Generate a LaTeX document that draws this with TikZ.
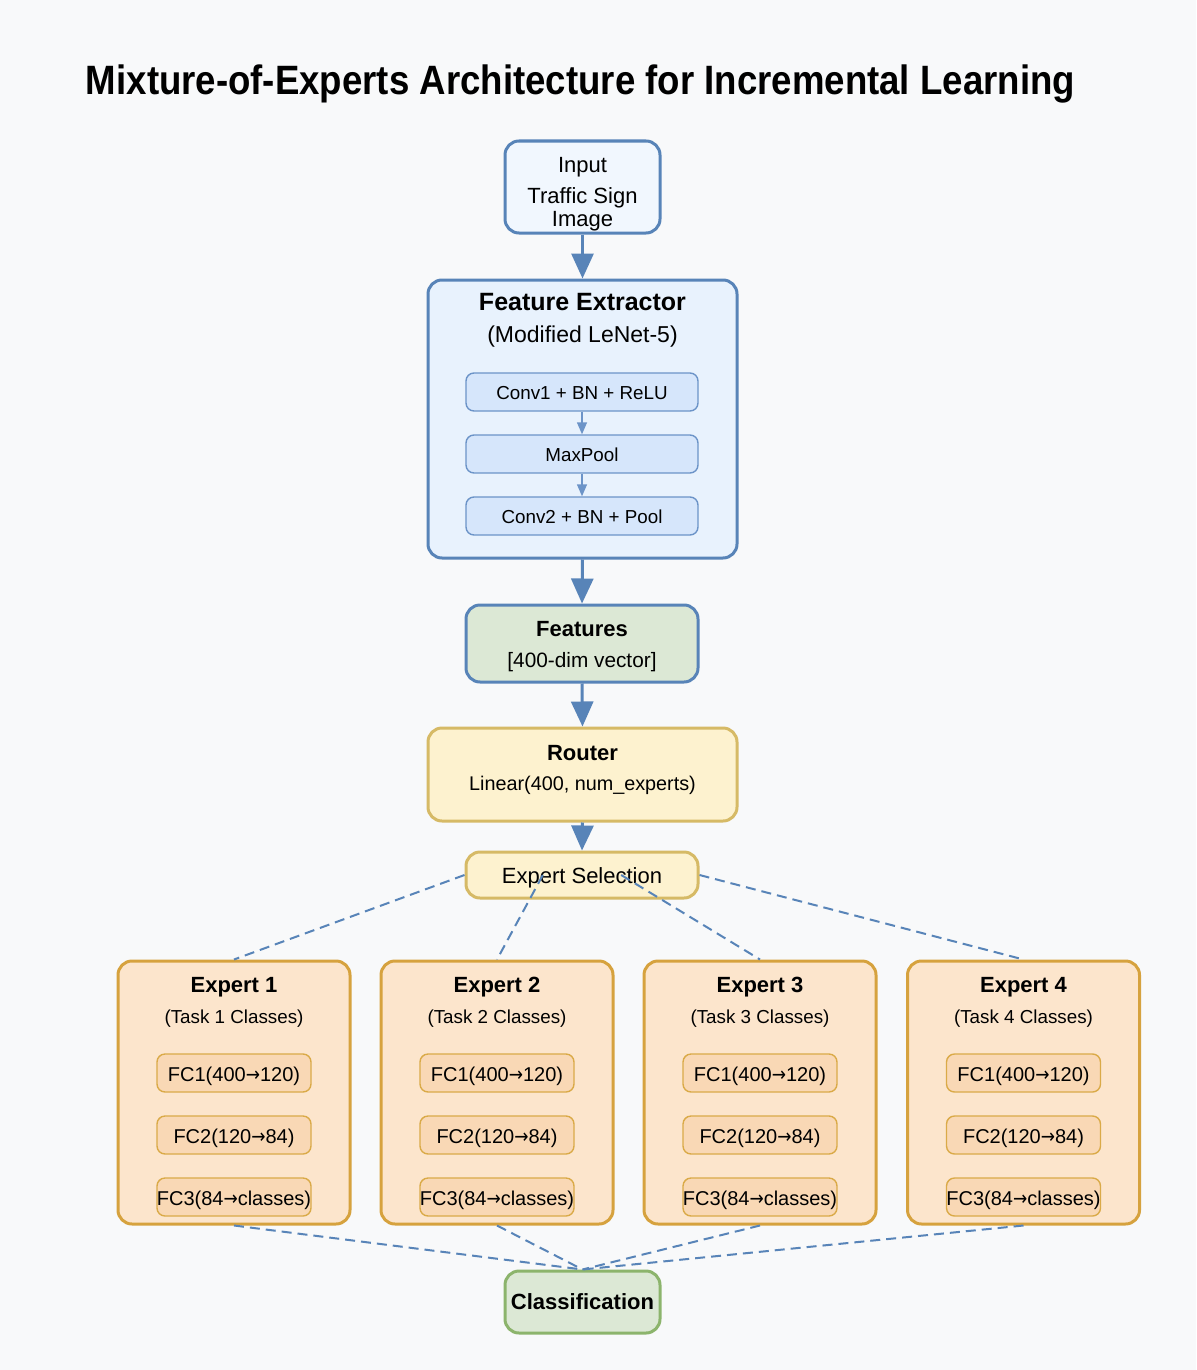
\documentclass[tikz,border=0pt]{standalone}
\usepackage{fontspec}
\setmainfont{Liberation Sans}
\newfontfamily\arrowfont{DejaVu Sans}
\usepackage{graphicx}
\usetikzlibrary{arrows.meta,calc}

\newcommand\toarr{\scalebox{0.85}[1]{\arrowfont →}}

\definecolor{bgcol}{RGB}{248,249,250}
\definecolor{blueline}{RGB}{88,132,184}
\definecolor{subline}{RGB}{108,148,200}
\definecolor{inputfill}{RGB}{241,247,254}
\definecolor{fefill}{RGB}{232,242,253}
\definecolor{subfill}{RGB}{214,230,251}
\definecolor{featfill}{RGB}{220,232,213}
\definecolor{routerfill}{RGB}{253,242,207}
\definecolor{routerline}{RGB}{214,186,102}
\definecolor{expfill}{RGB}{252,229,204}
\definecolor{expline}{RGB}{214,162,62}
\definecolor{fcfill}{RGB}{249,216,181}
\definecolor{fcline}{RGB}{218,170,72}
\definecolor{clsline}{RGB}{140,180,108}

\begin{document}
\begin{tikzpicture}[x=0.5pt,y=-0.5pt,
  box/.style={draw, line width=1.5pt, rounded corners=7pt, inner sep=0pt},
  subbox/.style={draw=subline, fill=subfill, line width=0.7pt, rounded corners=4pt, inner sep=0pt,
    minimum width=116pt, minimum height=19pt},
  fcbox/.style={draw=fcline, fill=fcfill, line width=0.7pt, rounded corners=4pt, inner sep=0pt,
    minimum width=77pt, minimum height=19pt},
  expbox/.style={box, draw=expline, fill=expfill, minimum width=116pt, minimum height=131.5pt},
  txt/.style={anchor=base, inner sep=0pt, font=\fontsize{11}{13}\selectfont},
  head/.style={anchor=base, inner sep=0pt, font=\fontsize{11}{13}\selectfont\bfseries},
  small/.style={anchor=base, inner sep=0pt, font=\fontsize{9.4}{11}\selectfont},
  fctxt/.style={anchor=base, inner sep=0pt, font=\fontsize{10}{12}\selectfont},
  bigarrow/.style={draw=blueline, line width=1.5pt, -{Triangle[width=11pt,length=12.5pt]}},
  smallarrow/.style={draw=subline, line width=0.7pt, -{Triangle[width=5pt,length=6pt]}},
  link/.style={draw=blueline, line width=1pt, dash pattern=on 5pt off 3pt}]
\useasboundingbox (0,0) rectangle (1196,1370);
\fill[bgcol] (0,0) rectangle (1196,1370);

% title
\node[anchor=base, inner sep=0pt] (title) at (580.5,95)
  {\resizebox{494.5pt}{\height}{\fontsize{20.5}{24}\selectfont\bfseries Mixture-of-Experts Architecture for Incremental Learning}};

% input
\node[box, draw=blueline, fill=inputfill, minimum width=77.5pt, minimum height=46pt] (input) at (582.5,187) {};
\node[txt] (inputa) at (582.5,172) {Input};
\node[txt] (inputb) at (582.5,203) {Traffic Sign};
\node[txt] (inputc) at (582.5,226) {Image};

% feature extractor
\node[box, draw=blueline, fill=fefill, minimum width=154.5pt, minimum height=139pt] (fe) at (582.5,419) {};
\node[head, font=\fontsize{12.5}{15}\selectfont\bfseries] (fetitle) at (582.5,310) {Feature Extractor};
\node[txt, font=\fontsize{11.5}{14}\selectfont] (fesub) at (582.5,342) {(Modified LeNet-5)};
\node[subbox] (conv1) at (582,392) {};
\node[small] (conv1t) at (582,399) {Conv1 + BN + ReLU};
\node[subbox] (pool) at (582,454) {};
\node[small] (poolt) at (582,461) {MaxPool};
\node[subbox] (conv2) at (582,516) {};
\node[small] (conv2t) at (582,523) {Conv2 + BN + Pool};

% features
\node[box, draw=blueline, fill=featfill, minimum width=116pt, minimum height=38.5pt] (feat) at (582,643.5) {};
\node[head] (feattitle) at (582,636) {Features};
\node[txt, font=\fontsize{10.4}{12}\selectfont] (featsub) at (582,667) {[400-dim vector]};

% router
\node[box, draw=routerline, fill=routerfill, minimum width=154.5pt, minimum height=46.5pt] (router) at (582.5,774.5) {};
\node[head] (routertitle) at (582.5,760) {Router};
\node[txt, font=\fontsize{9.9}{12}\selectfont] (routersub) at (582.5,790) {Linear(400, num\_experts)};

% expert selection
\node[box, draw=routerline, fill=routerfill, minimum width=116pt, minimum height=23pt] (sel) at (582,875) {};
\node[txt] (selt) at (582,883) {Expert Selection};

% experts
\node[expbox] (exp1) at (234,1092.5) {};
\node[head] (exp1t) at (234,992) {Expert 1};
\node[small] (exp1s) at (234,1023) {(Task 1 Classes)};
\node[fcbox] (fc11) at (234,1073) {};
\node[fctxt] (fc11t) at (234,1081) {FC1(400\toarr120)};
\node[fcbox] (fc12) at (234,1135) {};
\node[fctxt] (fc12t) at (234,1143) {FC2(120\toarr84)};
\node[fcbox] (fc13) at (234,1197) {};
\node[fctxt] (fc13t) at (234,1205) {FC3(84\toarr classes)};

\node[expbox] (exp2) at (497,1092.5) {};
\node[head] (exp2t) at (497,992) {Expert 2};
\node[small] (exp2s) at (497,1023) {(Task 2 Classes)};
\node[fcbox] (fc21) at (497,1073) {};
\node[fctxt] (fc21t) at (497,1081) {FC1(400\toarr120)};
\node[fcbox] (fc22) at (497,1135) {};
\node[fctxt] (fc22t) at (497,1143) {FC2(120\toarr84)};
\node[fcbox] (fc23) at (497,1197) {};
\node[fctxt] (fc23t) at (497,1205) {FC3(84\toarr classes)};

\node[expbox] (exp3) at (760,1092.5) {};
\node[head] (exp3t) at (760,992) {Expert 3};
\node[small] (exp3s) at (760,1023) {(Task 3 Classes)};
\node[fcbox] (fc31) at (760,1073) {};
\node[fctxt] (fc31t) at (760,1081) {FC1(400\toarr120)};
\node[fcbox] (fc32) at (760,1135) {};
\node[fctxt] (fc32t) at (760,1143) {FC2(120\toarr84)};
\node[fcbox] (fc33) at (760,1197) {};
\node[fctxt] (fc33t) at (760,1205) {FC3(84\toarr classes)};

\node[expbox] (exp4) at (1023.5,1092.5) {};
\node[head] (exp4t) at (1023.5,992) {Expert 4};
\node[small] (exp4s) at (1023.5,1023) {(Task 4 Classes)};
\node[fcbox] (fc41) at (1023.5,1073) {};
\node[fctxt] (fc41t) at (1023.5,1081) {FC1(400\toarr120)};
\node[fcbox] (fc42) at (1023.5,1135) {};
\node[fctxt] (fc42t) at (1023.5,1143) {FC2(120\toarr84)};
\node[fcbox] (fc43) at (1023.5,1197) {};
\node[fctxt] (fc43t) at (1023.5,1205) {FC3(84\toarr classes)};

% classification
\node[box, draw=clsline, fill=featfill, minimum width=77.5pt, minimum height=31pt] (cls) at (582.5,1302) {};
\node[head] (clst) at (582.5,1309) {Classification};

% arrows
\draw[bigarrow] (input.south) -- (fe.north);
\draw[smallarrow] (conv1.south) -- (pool.north);
\draw[smallarrow] (pool.south) -- (conv2.north);
\draw[bigarrow] (fe.south) -- (feat.north);
\draw[bigarrow] (feat.south) -- (router.north);
\draw[bigarrow] (router.south) -- (sel.north);

% routing links
\draw[link] (sel.west) -- (exp1.north);
\draw[link] ($(sel.west)!1/3!(sel.east)$) -- (exp2.north);
\draw[link] ($(sel.west)!2/3!(sel.east)$) -- (exp3.north);
\draw[link] (sel.east) -- (exp4.north);
\draw[link] (exp1.south) -- (cls.north);
\draw[link] (exp2.south) -- (cls.north);
\draw[link] (exp3.south) -- (cls.north);
\draw[link] (exp4.south) -- (cls.north);
\end{tikzpicture}
\end{document}
